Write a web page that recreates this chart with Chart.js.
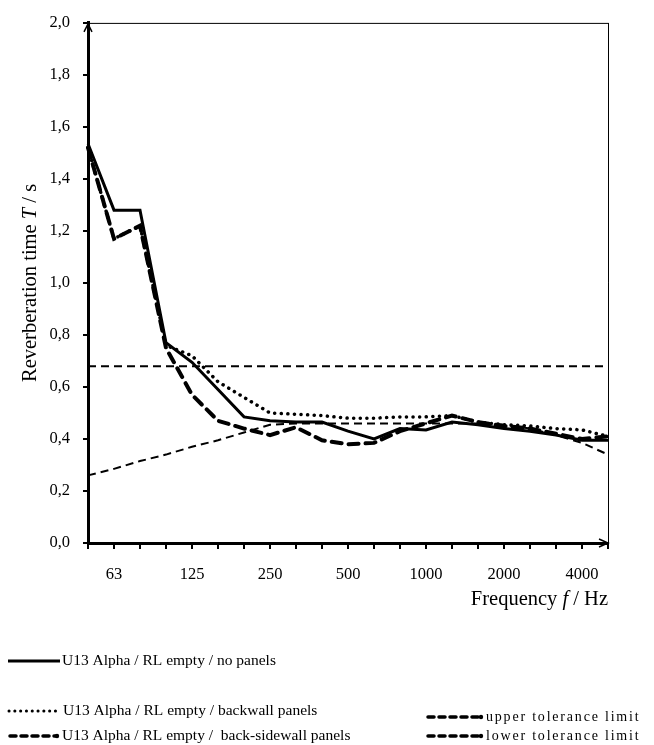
<!DOCTYPE html>
<html>
<head>
<meta charset="utf-8">
<script src="https://cdn.jsdelivr.net/npm/chart.js@4/dist/chart.umd.min.js"></script>
<style>
  html,body{margin:0;padding:0;background:#fff;}
  #wrap{width:654px;height:745px;}
</style>
</head>
<body>
<div id="wrap"><canvas id="c" width="654" height="745"></canvas></div>
<script>
// ---- data ----
const bands = ['50','63','80','100','125','160','200','250','315','400','500','630','800','1000','1250','1600','2000','2500','3150','4000','5000'];
const shownTicks = ['63','125','250','500','1000','2000','4000'];
const noPanels     = [1.535,1.28,1.28,0.77,0.695,0.59,0.485,0.47,0.465,0.465,0.43,0.40,0.44,0.435,0.465,0.455,0.44,0.43,0.415,0.395,0.395];
const backwall     = [1.52,1.17,1.22,0.76,0.72,0.62,0.56,0.50,0.495,0.49,0.48,0.48,0.485,0.485,0.49,0.465,0.455,0.45,0.44,0.435,0.41];
const backSidewall = [1.52,1.17,1.22,0.75,0.57,0.47,0.44,0.415,0.445,0.395,0.38,0.385,0.43,0.46,0.49,0.465,0.45,0.44,0.42,0.40,0.41];
const upperLimit   = [0.68,0.68,0.68,0.68,0.68,0.68,0.68,0.68,0.68,0.68,0.68,0.68,0.68,0.68,0.68,0.68,0.68,0.68,0.68,0.68,0.68];
const lowerLimit   = [0.26,0.285,0.315,0.34,0.37,0.395,0.425,0.455,0.46,0.46,0.46,0.46,0.46,0.46,0.46,0.46,0.455,0.44,0.415,0.385,0.34];
const seriesNames = ['U13 Alpha / RL empty / no panels','U13 Alpha / RL empty / backwall panels','U13 Alpha / RL empty /  back-sidewall panels','upper tolerance limit','lower tolerance limit'];

const SERIF = '"Liberation Serif", "Times New Roman", serif';

function drawRuns(ctx, runs, x, y, align){
  let total = 0;
  runs.forEach(r => { ctx.font = r.f; total += ctx.measureText(r.t).width; });
  let cx = align === 'center' ? x - total/2 : (align === 'right' ? x - total : x);
  ctx.textAlign = 'left';
  runs.forEach(r => { ctx.font = r.f; ctx.fillText(r.t, cx, y); cx += ctx.measureText(r.t).width; });
}

const deco = {
  id: 'deco',
  afterDraw(chart){
    const {ctx, chartArea:a} = chart;
    ctx.save();
    ctx.strokeStyle = '#000';
    ctx.fillStyle = '#000';
    // top and right frame
    ctx.lineWidth = 1;
    ctx.beginPath();
    ctx.moveTo(a.left, a.top + 0.5); ctx.lineTo(a.right, a.top + 0.5);
    ctx.moveTo(a.right + 0.5, a.top); ctx.lineTo(a.right + 0.5, a.bottom);
    ctx.stroke();
    // arrows
    ctx.lineWidth = 1.5;
    ctx.beginPath();
    ctx.moveTo(a.left - 4, a.top + 9); ctx.lineTo(a.left, a.top + 1); ctx.lineTo(a.left + 4, a.top + 9);
    ctx.stroke();
    ctx.beginPath();
    ctx.moveTo(a.right - 9, a.bottom - 4); ctx.lineTo(a.right, a.bottom); ctx.lineTo(a.right - 9, a.bottom + 4);
    ctx.stroke();

    // axis titles
    ctx.textBaseline = 'middle';
    drawRuns(ctx, [
      {t:'Frequency ', f:'20.5px ' + SERIF},
      {t:'f', f:'italic 20.5px ' + SERIF},
      {t:' / Hz', f:'20.5px ' + SERIF}
    ], a.right, 600, 'right');
    ctx.save();
    ctx.translate(31, (a.top + a.bottom)/2);
    ctx.rotate(-Math.PI/2);
    drawRuns(ctx, [
      {t:'Reverberation time ', f:'20.5px ' + SERIF},
      {t:'T', f:'italic 20.5px ' + SERIF},
      {t:' / s', f:'20.5px ' + SERIF}
    ], 0, 0, 'center');
    ctx.restore();

    // legend
    const lf = '15.5px ' + SERIF;
    ctx.font = lf;
    ctx.textAlign = 'left';
    // 1 solid
    ctx.lineWidth = 3; ctx.setLineDash([]); ctx.lineCap = 'butt';
    ctx.beginPath(); ctx.moveTo(8, 661); ctx.lineTo(60, 661); ctx.stroke();
    ctx.fillText(seriesNames[0], 62, 661);
    // 2 dotted
    ctx.lineWidth = 3; ctx.lineCap = 'round'; ctx.setLineDash([0.1, 5.7]);
    ctx.beginPath(); ctx.moveTo(9, 711); ctx.lineTo(59, 711); ctx.stroke();
    ctx.fillText(seriesNames[1], 63, 711);
    // 3 dashed
    function dashSample(x0, x1, y){
      ctx.lineWidth = 3.5; ctx.lineCap = 'round'; ctx.setLineDash([6, 5]);
      ctx.beginPath(); ctx.moveTo(x0, y); ctx.lineTo(x1, y); ctx.stroke();
      ctx.setLineDash([]);
      ctx.beginPath(); ctx.arc(x1 + 1, y, 2.2, 0, Math.PI*2); ctx.fill();
    }
    dashSample(10, 56, 736);
    ctx.fillText(seriesNames[2], 62, 736);
    dashSample(428, 480, 717);
    dashSample(428, 480, 736);
    ctx.font = '14px ' + SERIF;
    ctx.letterSpacing = '1.8px';
    ctx.fillText(seriesNames[3], 486, 717);
    ctx.fillText(seriesNames[4], 486, 736);
    ctx.letterSpacing = '0px';
    ctx.restore();
  }
};

const common = {fill:false, pointRadius:0, pointHoverRadius:0, tension:0, borderColor:'#000', backgroundColor:'#000'};

new Chart(document.getElementById('c'), {
  type: 'line',
  data: {
    labels: bands,
    datasets: [
      Object.assign({label: seriesNames[4], data: lowerLimit, borderWidth: 2, borderDash:[8,5]}, common),
      Object.assign({label: seriesNames[3], data: upperLimit, borderWidth: 2, borderDash:[8,5]}, common),
      Object.assign({label: seriesNames[2], data: backSidewall, borderWidth: 4, borderDash:[10,7], borderCapStyle:'round'}, common),
      Object.assign({label: seriesNames[1], data: backwall, borderWidth: 3.5, borderDash:[0.1,6.5], borderCapStyle:'round'}, common),
      Object.assign({label: seriesNames[0], data: noPanels, borderWidth: 3}, common)
    ]
  },
  options: {
    responsive: false,
    animation: false,
    devicePixelRatio: 1,
    layout: {padding: {top: 18, right: 46, bottom: 142, left: 0}},
    plugins: {legend: {display: false}, tooltip: {enabled: false}},
    scales: {
      x: {
        type: 'category',
        offset: false,
        grid: {display: true, drawOnChartArea: false, drawTicks: true, tickLength: 6, color: '#000', lineWidth: 2, offset: false},
        border: {display: true, color: '#000', width: 3},
        ticks: {
          autoSkip: false, maxRotation: 0, minRotation: 0, padding: 16, color: '#000',
          font: {family: SERIF, size: 16.5},
          callback: function(v, i){ const l = bands[i]; return shownTicks.includes(l) ? l : ''; }
        },
        afterFit: function(s){ s.height = 60; }
      },
      y: {
        min: 0, max: 2,
        grid: {display: true, drawOnChartArea: false, drawTicks: true, tickLength: 5, color: '#000', lineWidth: 2},
        border: {display: true, color: '#000', width: 3},
        ticks: {
          stepSize: 0.2, padding: 13, color: '#000',
          font: {family: SERIF, size: 16.5},
          callback: function(v){ return v.toFixed(1).replace('.', ','); }
        },
        afterFit: function(s){ s.width = 88; }
      }
    }
  },
  plugins: [deco]
});
</script>
</body>
</html>
